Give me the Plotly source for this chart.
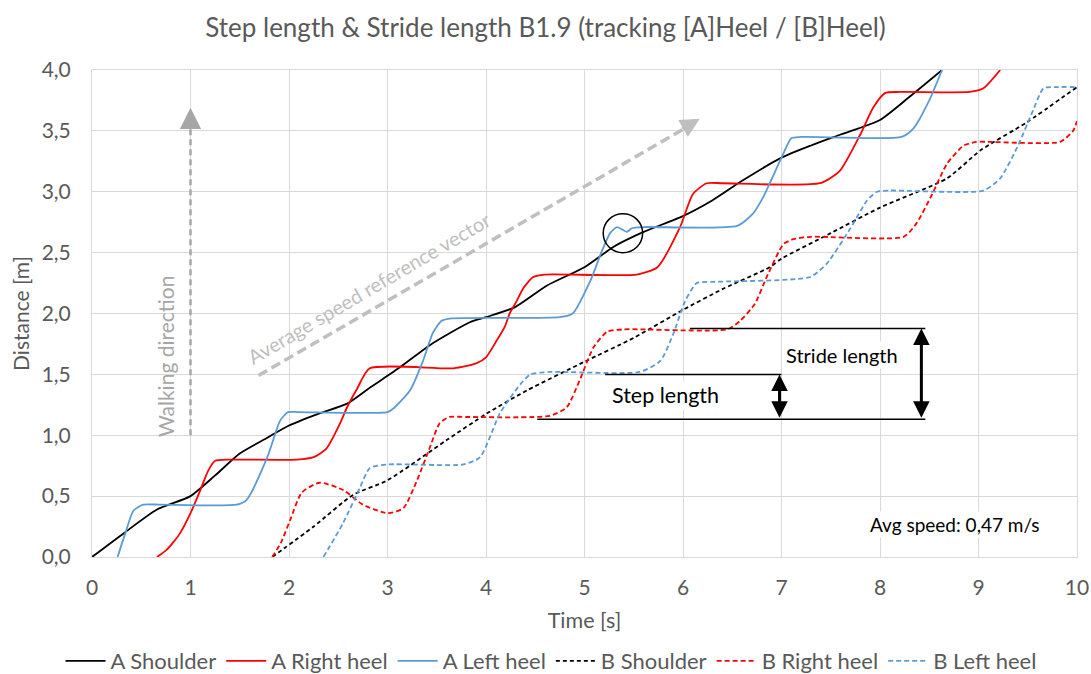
import plotly.graph_objects as go

# ---------------- data ----------------
a_shoulder_t = [0, 0.33, 0.66, 1.0, 1.25, 1.5, 1.78, 2.0, 2.31, 2.59, 2.82, 3.13, 3.43, 3.84, 4.0, 4.29,
                4.62, 5.0, 5.3, 5.6, 6.0, 6.3, 6.6, 7.0, 7.3, 7.6, 8.0, 8.3, 8.63]
a_shoulder_d = [0, 0.2, 0.39, 0.5, 0.67, 0.85, 0.98, 1.08, 1.18, 1.26, 1.39, 1.56, 1.74, 1.93, 1.97, 2.05,
                2.23, 2.38, 2.55, 2.67, 2.8, 2.93, 3.09, 3.28, 3.38, 3.47, 3.59, 3.78, 4.0]

a_right_t = [0.66, 0.76, 0.89, 1.0, 1.1, 1.18, 1.25, 1.4, 2.08, 2.25, 2.38, 2.52, 2.59, 2.69, 2.82, 3.67,
             3.9, 4.0, 4.11, 4.19, 4.24, 4.31, 4.38, 4.48, 4.6, 5.53, 5.74, 5.97, 6.1, 6.24, 6.4, 7.39,
             7.59, 7.8, 7.93, 8.05, 8.2, 8.91, 9.05, 9.22]
a_right_d = [0, 0.06, 0.19, 0.36, 0.55, 0.71, 0.79, 0.8, 0.8, 0.82, 0.89, 1.1, 1.23, 1.38, 1.55, 1.55,
             1.59, 1.64, 1.78, 1.89, 2.0, 2.1, 2.21, 2.3, 2.32, 2.32, 2.38, 2.71, 2.98, 3.07, 3.07, 3.07,
             3.17, 3.47, 3.69, 3.81, 3.82, 3.82, 3.85, 4.0]

a_left_t = [0.26, 0.34, 0.42, 0.52, 0.7, 1.47, 1.57, 1.78, 1.91, 1.99, 2.1, 3.0, 3.06, 3.23, 3.36, 3.46,
            3.55, 3.65, 4.75, 4.88, 5.06, 5.18, 5.26, 5.33, 5.43, 5.48, 5.6, 6.55, 6.71, 6.81, 7.0, 7.1,
            7.2, 8.22, 8.34, 8.5, 8.63]
a_left_d = [0, 0.2, 0.38, 0.43, 0.43, 0.43, 0.47, 0.82, 1.12, 1.19, 1.19, 1.19, 1.22, 1.37, 1.61, 1.84,
            1.94, 1.96, 1.97, 2.0, 2.27, 2.52, 2.66, 2.71, 2.67, 2.7, 2.71, 2.72, 2.82, 2.95, 3.28, 3.44,
            3.45, 3.45, 3.52, 3.75, 4.0]

b_shoulder_t = [1.83, 2.25, 2.65, 3.0, 3.6, 4.01, 4.42, 4.99, 5.5, 6.0, 6.4, 6.88, 7.0, 7.5, 8.0, 8.68,
                9.02, 9.49, 10.0]
b_shoulder_d = [0, 0.25, 0.51, 0.63, 0.96, 1.18, 1.37, 1.6, 1.8, 2.03, 2.2, 2.38, 2.45, 2.66, 2.87, 3.11,
                3.34, 3.57, 3.86]

b_right_t = [1.83, 1.92, 2.01, 2.13, 2.31, 2.55, 2.75, 3.0, 3.16, 3.3, 3.43, 3.53, 3.63, 3.8, 4.65, 4.82,
             4.95, 5.09, 5.23, 5.4, 6.45, 6.58, 6.73, 6.85, 7.02, 7.12, 7.3, 8.24, 8.37, 8.53, 8.68, 8.85,
             8.98, 9.1, 9.83, 9.96, 10.0]
b_right_d = [0, 0.12, 0.3, 0.53, 0.61, 0.55, 0.43, 0.36, 0.4, 0.63, 0.9, 1.1, 1.15, 1.15, 1.16, 1.23,
             1.45, 1.72, 1.85, 1.87, 1.87, 1.94, 2.08, 2.3, 2.57, 2.61, 2.63, 2.63, 2.74, 2.98, 3.23, 3.38,
             3.41, 3.41, 3.41, 3.5, 3.58]

b_left_t = [2.35, 2.55, 2.72, 2.82, 3.0, 3.77, 3.94, 4.14, 4.24, 4.35, 4.45, 4.65, 5.56, 5.77, 5.9, 6.02,
            6.14, 6.3, 7.29, 7.46, 7.7, 7.87, 7.97, 8.1, 9.05, 9.22, 9.39, 9.55, 9.66, 9.8, 10.0]
b_left_d = [0, 0.28, 0.57, 0.73, 0.76, 0.76, 0.82, 1.18, 1.3, 1.42, 1.5, 1.52, 1.52, 1.61, 1.83, 2.1,
            2.25, 2.26, 2.3, 2.41, 2.7, 2.93, 3.0, 3.01, 3.01, 3.11, 3.36, 3.66, 3.85, 3.86, 3.86]

x_ticks = [0, 1, 2, 3, 4, 5, 6, 7, 8, 9, 10]
x_ticklabels = ["0", "1", "2", "3", "4", "5", "6", "7", "8", "9", "10"]
y_ticks = [0, 0.5, 1.0, 1.5, 2.0, 2.5, 3.0, 3.5, 4.0]
y_ticklabels = ["0,0", "0,5", "1,0", "1,5", "2,0", "2,5", "3,0", "3,5", "4,0"]

series = [
    ("A Shoulder", a_shoulder_t, a_shoulder_d, "#000000", "solid"),
    ("A Right heel", a_right_t, a_right_d, "#ff0000", "solid"),
    ("A Left heel", a_left_t, a_left_d, "#5b9bd5", "solid"),
    ("B Shoulder", b_shoulder_t, b_shoulder_d, "#000000", "4px,3px"),
    ("B Right heel", b_right_t, b_right_d, "#ff0000", "5px,3px"),
    ("B Left heel", b_left_t, b_left_d, "#5b9bd5", "5px,3px"),
]

FONT = "Lato, Carlito, Calibri, sans-serif"
GRAY = "#595959"

fig = go.Figure()
for name, t, d, color, dash in series:
    fig.add_trace(go.Scatter(
        x=t, y=d, mode="lines", name=name,
        line=dict(color=color, width=1.8, dash=dash, shape="spline", smoothing=0.6),
    ))

# ---- reference lines / arrows (annotation layer) ----
shapes = [
    dict(type="line", xref="x", yref="y", x0=1.0, x1=1.0, y0=1.0, y1=3.6,
         line=dict(color="#a6a6a6", width=2.5, dash="6px,4px")),
    dict(type="line", xref="x", yref="y", x0=1.69, y0=1.49, x1=6.08, y1=3.55,
         line=dict(color="#bfbfbf", width=3.5, dash="10px,5px")),
    dict(type="line", xref="x", yref="y", x0=6.07, x1=8.46, y0=1.877, y1=1.877,
         line=dict(color="#000000", width=1.5)),
    dict(type="line", xref="x", yref="y", x0=5.21, x1=7.0, y0=1.5, y1=1.5,
         line=dict(color="#000000", width=1.5)),
    dict(type="line", xref="x", yref="y", x0=4.52, x1=8.46, y0=1.131, y1=1.131,
         line=dict(color="#000000", width=1.5)),
    dict(type="circle", xref="x", yref="y", x0=5.19, x1=5.59, y0=2.50, y1=2.82,
         line=dict(color="#000000", width=1.5)),
]

annotations = [
    dict(x=1.0, y=3.69, xref="x", yref="y", ax=0, ay=16, text="", showarrow=True,
         arrowhead=2, arrowsize=1.7, arrowwidth=2.5, arrowcolor="#a6a6a6"),
    dict(x=6.17, y=3.6, xref="x", yref="y", ax=-19, ay=11, text="", showarrow=True,
         arrowhead=2, arrowsize=1.1, arrowwidth=3.5, arrowcolor="#bfbfbf"),
    dict(x=6.98, y=1.5, xref="x", yref="y", ax=6.98, ay=1.131, axref="x", ayref="y", text="",
         showarrow=True, arrowhead=2, arrowside="end+start", arrowsize=1.1, arrowwidth=3,
         arrowcolor="#000000", standoff=0, startstandoff=0),
    dict(x=8.42, y=1.877, xref="x", yref="y", ax=8.42, ay=1.131, axref="x", ayref="y", text="",
         showarrow=True, arrowhead=2, arrowside="end+start", arrowsize=1.1, arrowwidth=3,
         arrowcolor="#000000", standoff=0, startstandoff=0),
    dict(x=0.74, y=1.65, xref="x", yref="y", text="Walking direction", showarrow=False,
         textangle=-90, font=dict(family=FONT, size=21, color="#a6a6a6")),
    dict(x=2.81, y=2.21, xref="x", yref="y", text="Average speed reference vector", showarrow=False,
         textangle=-30.5, font=dict(family=FONT, size=20, color="#bfbfbf")),
    dict(x=5.82, y=1.33, xref="x", yref="y", text="Step length", showarrow=False,
         bgcolor="#ffffff", font=dict(family=FONT, size=21.5, color="#000000")),
    dict(x=7.61, y=1.66, xref="x", yref="y", text="Stride length", showarrow=False,
         bgcolor="#ffffff", font=dict(family=FONT, size=20, color="#000000")),
    dict(x=8.76, y=0.27, xref="x", yref="y", text="Avg speed: 0,47 m/s", showarrow=False,
         bgcolor="#ffffff", font=dict(family=FONT, size=19, color="#000000")),
]

fig.update_layout(
    width=1091, height=674,
    margin=dict(l=92, r=14, t=70, b=117, autoexpand=False),
    paper_bgcolor="#ffffff", plot_bgcolor="#ffffff",
    font=dict(family=FONT, size=21, color=GRAY),
    title=dict(text="Step length & Stride length B1.9 (tracking [A]Heel / [B]Heel)",
               x=0.5, xanchor="center", y=1 - 28 / 674, yanchor="middle", yref="container",
               font=dict(family=FONT, size=26, color=GRAY)),
    xaxis=dict(range=[0, 10], tickvals=x_ticks, ticktext=x_ticklabels,
               showgrid=True, gridcolor="#d9d9d9", gridwidth=1, zeroline=False,
               showline=True, linecolor="#d9d9d9", mirror=True, automargin=False,
               ticks="", ticklabelstandoff=12,
               tickfont=dict(family=FONT, size=21, color=GRAY),
               title=dict(text="Time [s]", standoff=14, font=dict(family=FONT, size=21.5, color=GRAY))),
    yaxis=dict(range=[0, 4], tickvals=y_ticks, ticktext=y_ticklabels,
               showgrid=True, gridcolor="#d9d9d9", gridwidth=1, zeroline=False,
               showline=True, linecolor="#d9d9d9", mirror=True, automargin=False,
               ticks="", ticklabelstandoff=16,
               tickfont=dict(family=FONT, size=21, color=GRAY),
               title=dict(text="Distance [m]", standoff=6, font=dict(family=FONT, size=21, color=GRAY))),
    legend=dict(orientation="h", xref="container", yref="container",
                x=551 / 1091, xanchor="center", y=1 - 661 / 674, yanchor="middle",
                font=dict(family=FONT, size=22, color=GRAY), bgcolor="rgba(0,0,0,0)",
                itemwidth=40, tracegroupgap=0),
    shapes=shapes,
    annotations=annotations,
    showlegend=True,
)

fig.write_html("out.html")
